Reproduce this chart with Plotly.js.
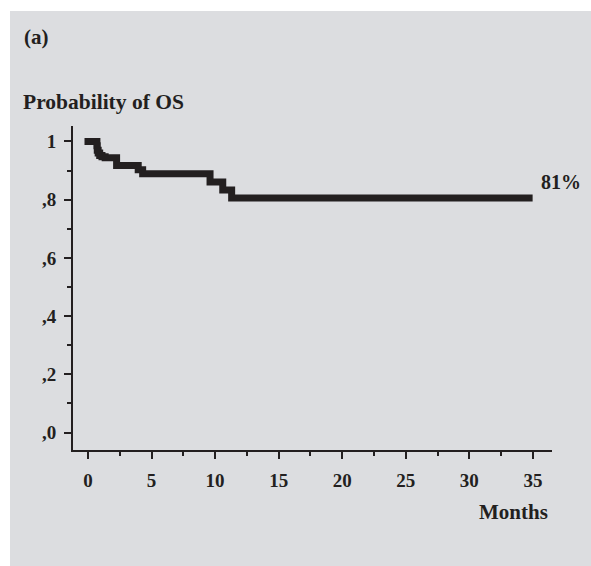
<!DOCTYPE html>
<html>
<head>
<meta charset="utf-8">
<script src="https://cdn.plot.ly/plotly-3.0.1.min.js"></script>
<style>
  html, body { margin: 0; padding: 0; background: #ffffff; }
  #chart { position: absolute; left: 10px; top: 11px; width: 581px; height: 555px; }
  path.js-line { stroke-linecap: square !important; }
</style>
</head>
<body>
<div id="chart"></div>
<script>
// Kaplan-Meier overall survival
const months   = [0, 0.7, 0.73, 0.8, 0.92, 1.1, 1.35, 2.25, 3.95, 4.3, 9.6, 10.6, 11.3, 34.7];
const survival = [1.0, 0.985, 0.97, 0.96, 0.952, 0.947, 0.944, 0.917, 0.903, 0.889, 0.861, 0.833, 0.806, 0.806];

const xTickVals = [0, 5, 10, 15, 20, 25, 30, 35];
const xTickText = ["0", "5", "10", "15", "20", "25", "30", "35"];
const xMinorVals = [2.5, 7.5, 12.5, 17.5, 22.5, 27.5, 32.5];
const yTickVals = [0, 0.2, 0.4, 0.6, 0.8, 1.0];
const yTickText = [",0", ",2", ",4", ",6", ",8", "1"];
const yMinorVals = [0.1, 0.3, 0.5, 0.7, 0.9];

const panelLabel = "(a)";
const yTitle = "Probability of OS";
const xTitle = "Months";
const endLabel = "81%";

const ink = "#231f20";
const bg = "#dcdde0";
const fam = "Liberation Serif, Times New Roman, serif";

const trace = {
  x: months, y: survival, type: "scatter", mode: "lines",
  line: { shape: "hv", width: 7, color: ink },
  hoverinfo: "skip", showlegend: false
};

const layout = {
  width: 581, height: 555,
  margin: { l: 63, r: 39, t: 115, b: 116, pad: 0 },
  paper_bgcolor: bg, plot_bgcolor: bg,
  font: { family: fam, color: ink },
  showlegend: false,
  xaxis: {
    range: [-1.18, 36.5], showgrid: false, zeroline: false,
    showline: true, linewidth: 2, linecolor: ink,
    tickmode: "array", tickvals: xTickVals, ticktext: xTickText,
    ticks: "outside", ticklen: 7, tickwidth: 2, tickcolor: ink,
    tickfont: { family: fam, size: 19, color: ink, weight: "bold" },
    ticklabelstandoff: 5,
    minor: { tickmode: "array", tickvals: xMinorVals, ticks: "outside", ticklen: 4, tickwidth: 2, tickcolor: ink, showgrid: false },
    fixedrange: true
  },
  yaxis: {
    range: [-0.06, 1.053], showgrid: false, zeroline: false,
    showline: true, linewidth: 2, linecolor: ink,
    tickmode: "array", tickvals: yTickVals, ticktext: yTickText,
    ticks: "outside", ticklen: 7, tickwidth: 2, tickcolor: ink,
    tickfont: { family: fam, size: 19, color: ink, weight: "bold" },
    ticklabelstandoff: 4,
    minor: { tickmode: "array", tickvals: yMinorVals, ticks: "outside", ticklen: 4, tickwidth: 2, tickcolor: ink, showgrid: false },
    fixedrange: true
  },
  annotations: [
    { text: panelLabel, xref: "paper", yref: "paper", x: -0.106, y: 1.275, xanchor: "left", yanchor: "middle",
      showarrow: false, font: { family: fam, size: 21, color: ink, weight: "bold" } },
    { text: yTitle, xref: "paper", yref: "paper", x: -0.108, y: 1.073, xanchor: "left", yanchor: "middle",
      showarrow: false, font: { family: fam, size: 21.5, color: ink, weight: "bold" } },
    { text: xTitle, xref: "paper", yref: "paper", x: 0.995, y: -0.19, xanchor: "right", yanchor: "middle",
      showarrow: false, font: { family: fam, size: 21, color: ink, weight: "bold" } },
    { text: endLabel, xref: "x", yref: "y", x: months[months.length - 1], y: survival[survival.length - 1],
      xanchor: "left", yanchor: "middle", xshift: 10, yshift: 16,
      showarrow: false, font: { family: fam, size: 20, color: ink, weight: "bold" } }
  ]
};

Plotly.newPlot("chart", [trace], layout, { displayModeBar: false, staticPlot: true });
</script>
</body>
</html>
